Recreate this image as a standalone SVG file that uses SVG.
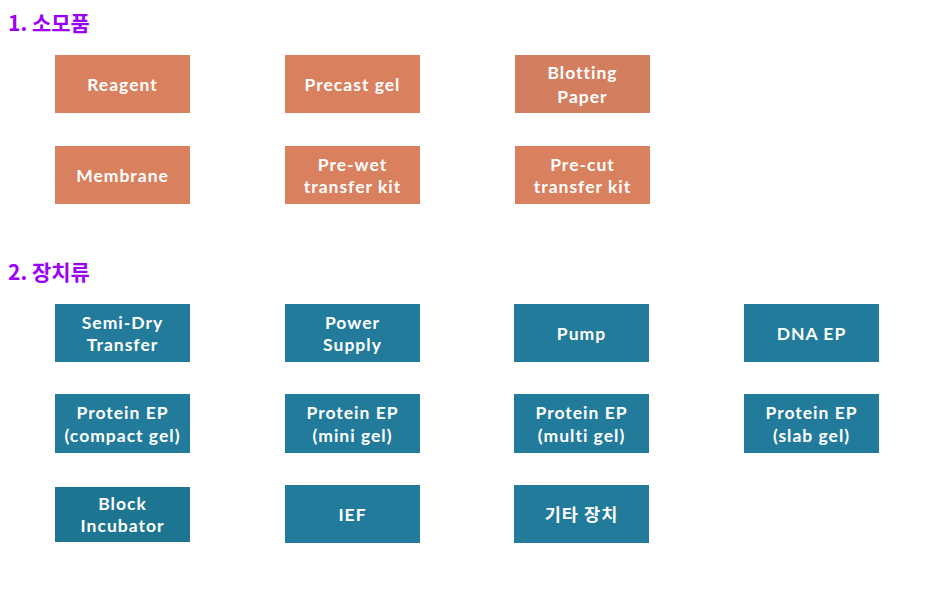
<svg xmlns="http://www.w3.org/2000/svg" width="932" height="596" viewBox="0 0 932 596">
<style>
.h{font-family:"Noto Sans CJK KR","Noto Sans",sans-serif;font-weight:700;font-size:21px;fill:#9B00F5}
.o{fill:#D9805E}
.t{fill:#227B9B}
.l{font-family:Lato,"Noto Sans CJK KR",sans-serif;font-weight:700;font-size:17.5px;fill:#fff;text-anchor:middle;letter-spacing:1px}
</style>
<rect width="932" height="596" fill="#fff"/>
<text class="h" x="8" y="31">1. 소모품</text>
<text class="h" x="8" y="280">2. 장치류</text>
<g id="n-reagent"><rect class="o" x="55" y="55" width="135" height="58"/><text class="l" x="122.5" y="91">Reagent</text></g>
<g id="n-precast"><rect class="o" x="285" y="55" width="135" height="58"/><text class="l" x="352.5" y="91">Precast gel</text></g>
<g id="n-blotting"><rect class="o" x="515" y="55" width="135" height="58" style="fill:#D27E5F"/><text class="l" x="582.5" y="79">Blotting</text><text class="l" x="582.5" y="103">Paper</text></g>
<g id="n-membrane"><rect class="o" x="55" y="146" width="135" height="58"/><text class="l" x="122.5" y="182">Membrane</text></g>
<g id="n-prewet"><rect class="o" x="285" y="146" width="135" height="58"/><text class="l" x="352.5" y="171">Pre-wet</text><text class="l" x="352.5" y="193">transfer kit</text></g>
<g id="n-precut"><rect class="o" x="515" y="146" width="135" height="58"/><text class="l" x="582.5" y="171">Pre-cut</text><text class="l" x="582.5" y="193">transfer kit</text></g>
<g id="n-semidry"><rect class="t" x="55" y="304" width="135" height="58"/><text class="l" x="122.5" y="329">Semi-Dry</text><text class="l" x="122.5" y="351">Transfer</text></g>
<g id="n-power"><rect class="t" x="285" y="304" width="135" height="58"/><text class="l" x="352.5" y="329">Power</text><text class="l" x="352.5" y="351">Supply</text></g>
<g id="n-pump"><rect class="t" x="514" y="304" width="135" height="58"/><text class="l" x="581.5" y="340">Pump</text></g>
<g id="n-dna"><rect class="t" x="744" y="304" width="135" height="58"/><text class="l" x="811.5" y="340">DNA EP</text></g>
<g id="n-compact"><rect class="t" x="55" y="394" width="135" height="59"/><text class="l" x="122.5" y="419">Protein EP</text><text class="l" x="122.5" y="442">(compact gel)</text></g>
<g id="n-mini"><rect class="t" x="285" y="394" width="135" height="59"/><text class="l" x="352.5" y="419">Protein EP</text><text class="l" x="352.5" y="442">(mini gel)</text></g>
<g id="n-multi"><rect class="t" x="514" y="394" width="135" height="59"/><text class="l" x="581.5" y="419">Protein EP</text><text class="l" x="581.5" y="442">(multi gel)</text></g>
<g id="n-slab"><rect class="t" x="744" y="394" width="135" height="59"/><text class="l" x="811.5" y="419">Protein EP</text><text class="l" x="811.5" y="442">(slab gel)</text></g>
<g id="n-block"><rect class="t" x="55" y="487" width="135" height="55" style="fill:#1E7591"/><text class="l" x="122.5" y="510">Block</text><text class="l" x="122.5" y="532">Incubator</text></g>
<g id="n-ief"><rect class="t" x="285" y="485" width="135" height="58"/><text class="l" x="352.5" y="521">IEF</text></g>
<g id="n-etc"><rect class="t" x="514" y="485" width="135" height="58"/><text class="l" x="581.5" y="521">기타 장치</text></g>
<g id="connectors"></g>
</svg>
